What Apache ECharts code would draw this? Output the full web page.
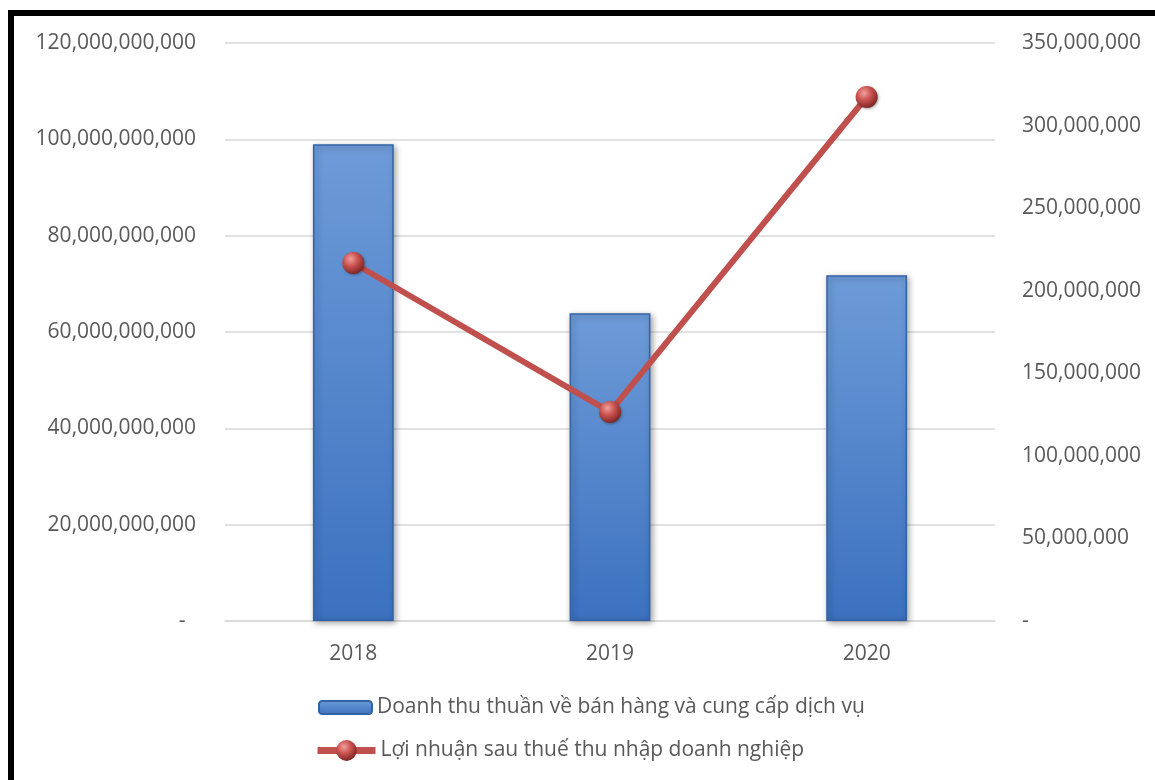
<!DOCTYPE html>
<html>
<head>
<meta charset="utf-8">
<style>
  html, body { margin: 0; padding: 0; background: #fff; }
  #chart { width: 1155px; height: 780px; }
</style>
<script src="https://cdn.jsdelivr.net/npm/echarts@6/dist/echarts.min.js"></script>
</head>
<body>
<div id="chart"></div>
<script>
// Years on the category axis
const years = ['2018', '2019', '2020'];
// Net revenue from sales and services (left axis)
const revenue = [99000000000, 63900000000, 71800000000];
// Profit after corporate income tax (right axis)
const profit = [216800000, 126600000, 317300000];
// Series names shown in the legend
const revenueName = 'Doanh thu thuần về bán hàng và cung cấp dịch vụ';
const profitName = 'Lợi nhuận sau thuế thu nhập doanh nghiệp';

const FONT = '"Open Sans", "Noto Sans", sans-serif';
const TEXT = '#595959';

// Accounting-style numbers: zero shown as a dash
function fmtLeft(v) {
  return v === 0 ? '-\u2002' : v.toLocaleString('en-US');
}
function fmtRight(v) {
  return v === 0 ? '-' : v.toLocaleString('en-US');
}

const sphere = new echarts.graphic.RadialGradient(0.38, 0.32, 0.7, [
  { offset: 0, color: '#f0a19e' },
  { offset: 0.45, color: '#cc5552' },
  { offset: 1, color: '#7d2523' }
]);

const chart = echarts.init(document.getElementById('chart'), null, { renderer: 'canvas' });

chart.setOption({
  animation: false,
  backgroundColor: '#ffffff',
  textStyle: { fontFamily: FONT },
  graphic: [{
    type: 'rect',
    silent: true,
    z: 100,
    shape: { x: 11, y: 13, width: 1400, height: 1000 },
    style: { fill: 'none', stroke: '#000000', lineWidth: 6 }
  }],
  grid: { left: 225, right: 160, top: 43, bottom: 159 },
  legend: [{
    orient: 'vertical',
    left: 313,
    top: 692,
    itemWidth: 53,
    itemHeight: 13,
    textStyle: { color: TEXT, fontSize: 21, fontFamily: FONT },
    data: [revenueName]
  }, {
    orient: 'vertical',
    left: 309,
    top: 735,
    itemWidth: 58,
    itemHeight: 26,
    itemGap: 0,
    textStyle: { color: TEXT, fontSize: 21, fontFamily: FONT },
    data: [{
      name: profitName,
      lineStyle: { width: 7, color: '#c0504d' }
    }]
  }],
  xAxis: {
    type: 'category',
    data: years,
    axisLine: { show: true, lineStyle: { color: '#d9d9d9', width: 1.5 } },
    axisTick: { show: false },
    axisLabel: { color: TEXT, fontSize: 21, margin: 23, fontFamily: FONT }
  },
  yAxis: [{
    type: 'value',
    min: 0,
    max: 120000000000,
    interval: 20000000000,
    axisLine: { show: false },
    axisTick: { show: false },
    splitLine: { lineStyle: { color: '#d9d9d9', width: 1.5 } },
    axisLabel: { color: TEXT, fontSize: 21, margin: 29, fontFamily: FONT, formatter: fmtLeft }
  }, {
    type: 'value',
    min: 0,
    max: 350000000,
    interval: 50000000,
    axisLine: { show: false },
    axisTick: { show: false },
    splitLine: { show: false },
    axisLabel: { color: TEXT, fontSize: 21, margin: 27, fontFamily: FONT, formatter: fmtRight }
  }],
  series: [{
    name: revenueName,
    type: 'bar',
    yAxisIndex: 0,
    data: revenue,
    barWidth: '31.5%',
    itemStyle: {
      color: new echarts.graphic.LinearGradient(0, 0, 0, 1, [
        { offset: 0, color: '#6e9bd8' },
        { offset: 1, color: '#3b71bf' }
      ]),
      borderColor: '#3362a6',
      borderWidth: 1.5,
      shadowBlur: 6,
      shadowColor: 'rgba(0,0,0,0.35)',
      shadowOffsetX: 2,
      shadowOffsetY: 2
    }
  }, {
    name: profitName,
    type: 'line',
    yAxisIndex: 1,
    data: profit,
    symbol: 'circle',
    symbolSize: 22,
    lineStyle: { color: '#c0504d', width: 6 },
    itemStyle: {
      color: sphere,
      shadowBlur: 3,
      shadowColor: 'rgba(0,0,0,0.35)',
      shadowOffsetX: 1,
      shadowOffsetY: 1
    },
    z: 5
  }]
});
</script>
</body>
</html>
